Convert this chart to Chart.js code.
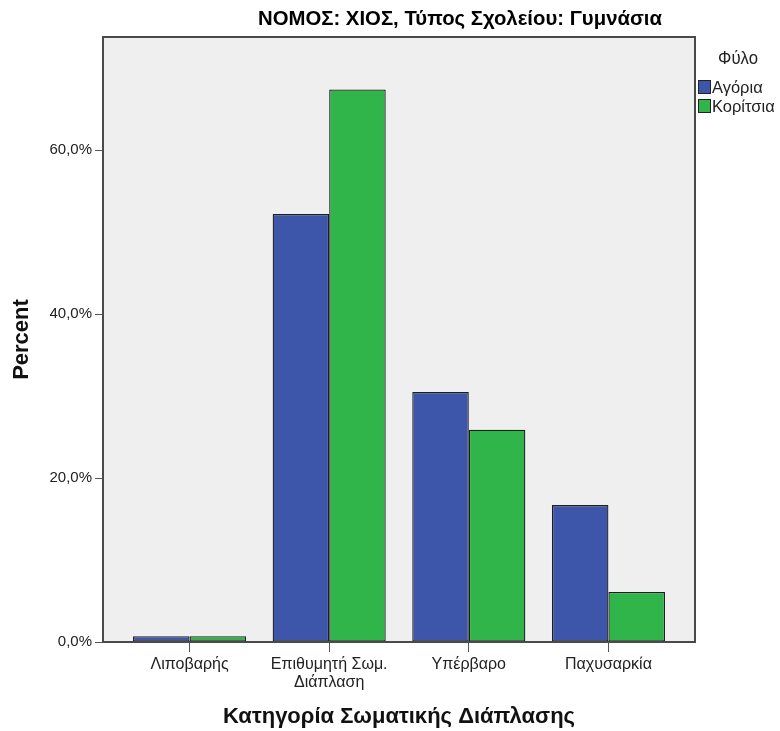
<!DOCTYPE html>
<html>
<head>
<meta charset="utf-8">
<script src="https://cdn.jsdelivr.net/npm/chart.js@4/dist/chart.umd.min.js"></script>
<style>
  html, body { margin: 0; padding: 0; background: #ffffff; }
  #wrap { width: 780px; height: 731px; }
</style>
</head>
<body>
<div id="wrap"><canvas id="c" width="780" height="731"></canvas></div>
<script>
const chartTitle = 'ΝΟΜΟΣ: ΧΙΟΣ, Τύπος Σχολείου: Γυμνάσια';
const categories = ['Λιποβαρής', ['Επιθυμητή Σωμ.', 'Διάπλαση'], 'Υπέρβαρο', 'Παχυσαρκία'];
const seriesNames = ['Αγόρια', 'Κορίτσια'];
const boysValues = [0.7, 52.2, 30.5, 16.7];
const girlsValues = [0.7, 67.4, 25.9, 6.1];
const yTickValues = [0, 20, 40, 60];
const legendTitle = 'Φύλο';
const xTitle = 'Κατηγορία Σωματικής Διάπλασης';
const yTitle = 'Percent';

const seriesColors = ['#3d56a9', '#2fb54a'];
const FONT = '"Liberation Sans", Arial, sans-serif';

const toPoints = vals => vals.map((v, i) => ({ x: i, y: v }));

function drawNarrow(ctx, text, x, y, font, sx, align) {
  ctx.save();
  ctx.font = font;
  ctx.textAlign = align;
  ctx.textBaseline = 'middle';
  ctx.translate(x, y);
  ctx.scale(sx, 1);
  ctx.fillText(text, 0, 0);
  ctx.restore();
}

const frameAndTitle = {
  id: 'frameAndTitle',
  beforeDatasetsDraw(chart) {
    const { ctx, chartArea: a } = chart;
    ctx.save();
    ctx.fillStyle = '#efefef';
    ctx.fillRect(a.left, a.top, a.right - a.left, a.bottom - a.top);
    ctx.restore();
  },
  afterDatasetsDraw(chart) {
    const { ctx, chartArea: a } = chart;
    ctx.save();
    ctx.strokeStyle = '#4a4a4a';
    ctx.lineWidth = 2;
    ctx.strokeRect(a.left, a.top, a.right - a.left, a.bottom - a.top);
    ctx.restore();
  },
  afterDraw(chart) {
    const { ctx } = chart;
    ctx.save();
    // title (narrow bold)
    const tFont = 'bold 21px ' + FONT;
    ctx.font = tFont;
    const tw = ctx.measureText(chartTitle).width;
    ctx.fillStyle = '#000';
    drawNarrow(ctx, chartTitle, 460, 19, tFont, 404 / tw, 'center');
    // legend
    ctx.fillStyle = '#222';
    drawNarrow(ctx, legendTitle, 738, 59, '19px ' + FONT, 0.88, 'center');
    seriesNames.forEach((name, i) => {
      const y = 87 + i * 19;
      ctx.fillStyle = seriesColors[i];
      ctx.fillRect(699, y - 6, 11, 12);
      ctx.strokeStyle = '#222';
      ctx.lineWidth = 1;
      ctx.strokeRect(698.5, y - 6.5, 12, 13);
      ctx.fillStyle = '#222';
      drawNarrow(ctx, name, 712, y + 1, '17px ' + FONT, 0.97, 'left');
    });
    ctx.restore();
  }
};

new Chart(document.getElementById('c'), {
  type: 'bar',
  data: {
    datasets: [
      { label: seriesNames[0], data: toPoints(boysValues), backgroundColor: seriesColors[0] },
      { label: seriesNames[1], data: toPoints(girlsValues), backgroundColor: seriesColors[1] }
    ]
  },
  options: {
    responsive: false,
    animation: false,
    devicePixelRatio: 1,
    layout: { padding: { top: 37, right: 85, left: 0, bottom: 0 } },
    datasets: {
      bar: {
        categoryPercentage: 0.81,
        barPercentage: 1.0,
        borderColor: '#1e1e1e',
        borderWidth: 1.3,
        borderSkipped: false
      }
    },
    plugins: {
      legend: { display: false },
      title: { display: false },
      tooltip: { enabled: false }
    },
    scales: {
      x: {
        type: 'linear',
        min: -0.62,
        max: 3.62,
        offset: false,
        afterBuildTicks: s => { s.ticks = categories.map((c, i) => ({ value: i })); },
        afterFit: s => { s.height = 89; },
        ticks: {
          autoSkip: false,
          maxRotation: 0,
          padding: 3,
          color: '#222',
          font: { family: FONT, size: 16, lineHeight: 1.15 },
          callback: v => categories[v]
        },
        grid: { offset: false, drawOnChartArea: false, drawTicks: true, tickLength: 10, color: '#555', lineWidth: 1 },
        border: { display: false },
        title: {
          display: true,
          text: xTitle,
          color: '#111',
          font: { family: FONT, size: 22, weight: 'bold' },
          padding: { top: 0, bottom: 1 }
        }
      },
      y: {
        min: 0,
        max: 73.8,
        afterBuildTicks: s => { s.ticks = yTickValues.map(v => ({ value: v })); },
        afterFit: s => { s.width = 103; },
        ticks: {
          padding: 3,
          color: '#222',
          font: { family: FONT, size: 15 },
          callback: v => v.toFixed(1).replace('.', ',') + '%'
        },
        grid: { drawOnChartArea: false, drawTicks: true, tickLength: 8, color: '#555', lineWidth: 1 },
        border: { display: false },
        title: {
          display: true,
          text: yTitle,
          color: '#111',
          font: { family: FONT, size: 22, weight: 'bold' },
          padding: { top: 9, bottom: 0 }
        }
      }
    }
  },
  plugins: [frameAndTitle]
});
</script>
</body>
</html>
